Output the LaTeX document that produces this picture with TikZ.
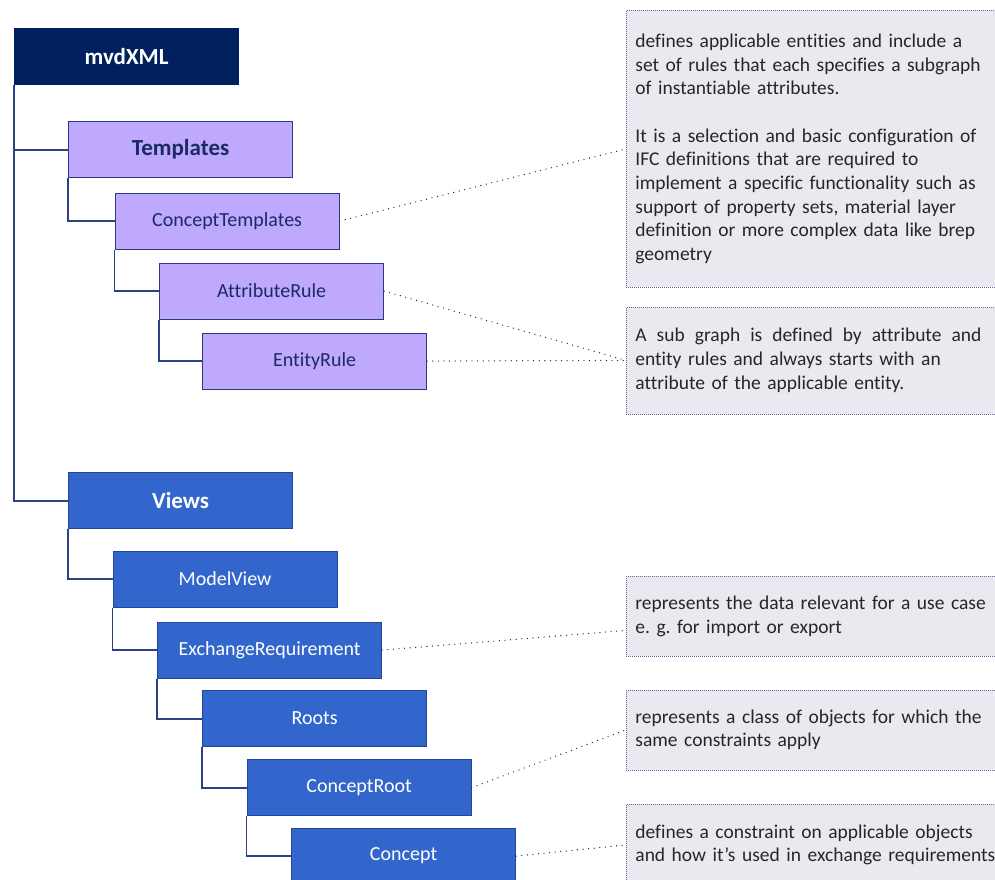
\documentclass[tikz,border=0pt]{standalone}
\usepackage{fontspec}
\setmainfont{Carlito}[Ligatures=NoCommon]
\frenchspacing
\definecolor{navy}{HTML}{002060}
\definecolor{lavender}{HTML}{BFA9FE}
\definecolor{royal}{HTML}{3366CC}
\definecolor{royaledge}{HTML}{22479A}
\definecolor{lavedge}{HTML}{2C3A7C}
\definecolor{notefill}{HTML}{EBE9F0}
\definecolor{noteline}{HTML}{5B6B9B}
\definecolor{treeline}{HTML}{2A4282}
\definecolor{labelnavy}{HTML}{1A2A62}
\definecolor{notetext}{HTML}{262626}

\begin{document}
\begin{tikzpicture}[x=1pt,y=-1pt,
  box/.style={rectangle, anchor=north west, minimum width=224pt, minimum height=56pt,
    inner sep=0pt, line width=1.2pt},
  headfont/.style={font=\fontsize{23}{28}\selectfont\bfseries},
  itemfont/.style={font=\fontsize{20}{24}\selectfont},
  rootbox/.style={box, headfont, fill=navy, draw=navy, text=white},
  tplhead/.style={box, headfont, fill=lavender, draw=lavedge, text=labelnavy},
  tplbox/.style={box, itemfont, fill=lavender, draw=lavedge, text=labelnavy},
  viewhead/.style={box, headfont, fill=royal, draw=royaledge, text=white},
  viewbox/.style={box, itemfont, fill=royal, draw=royaledge, text=white},
  note/.style={rectangle, anchor=north west, fill=notefill, draw=noteline, line width=0.8pt,
    dash pattern=on 0.8pt off 1.2pt, text width=380pt, inner xsep=9pt, inner ysep=0pt,
    align=left, text=notetext, font=\fontsize{19.5}{23.7}\selectfont},
  tree/.style={draw=treeline, line width=1.8pt},
  link/.style={draw=navy, line width=1.3pt, line cap=round, dash pattern=on 0pt off 5.6pt},
]
\path[use as bounding box, clip] (0,0) rectangle (995,879);

% template branch
\node[rootbox] (mv) at (14,28)    {mvdXML};
\node[tplhead] (tp) at (68,121)   {Templates};
\node[tplbox]  (ct) at (114.5,192.5) {ConceptTemplates};
\node[tplbox]  (ar) at (159,262.5)   {AttributeRule};
\node[tplbox]  (er) at (202,332.5)   {EntityRule};

% view branch
\node[viewhead] (vw) at (68,472)     {Views};
\node[viewbox]  (mo) at (112.5,550.5) {ModelView};
\node[viewbox]  (ex) at (157,621.5)   {ExchangeRequirement};
\node[viewbox]  (ro) at (202,690)     {Roots};
\node[viewbox]  (cr) at (246.5,759)   {ConceptRoot};
\node[viewbox]  (cc) at (291,827.5)   {Concept};

% hierarchy lines
\draw[tree] (mv.south west) |- (tp.west);
\draw[tree] (mv.south west) |- (vw.west);
\draw[tree] (tp.south west) |- (ct.west);
\draw[tree] (ct.south west) |- (ar.west);
\draw[tree] (ar.south west) |- (er.west);
\draw[tree] (vw.south west) |- (mo.west);
\draw[tree] (mo.south west) |- (ex.west);
\draw[tree] (ex.south west) |- (ro.west);
\draw[tree] (ro.south west) |- (cr.west);
\draw[tree] (cr.south west) |- (cc.west);

% explanatory notes
\node[note, minimum height=277pt] (n1) at (626,10) {%
defines applicable entities and include a\\
set of rules that each specifies a subgraph\\
of instantiable attributes.\\[23.7pt]
It is a selection and basic configuration of\\
IFC definitions that are required to\\
implement a specific functionality such as\\
support of property sets, material layer\\
definition or more complex data like brep\\
geometry};
\node[note, minimum height=107pt] (n2) at (626,306.5) {%
\makebox[346pt][l]{A\hfill sub\hfill graph\hfill is\hfill defined\hfill by\hfill attribute\hfill and}\\
entity rules and always starts with an\\
attribute of the applicable entity.};
\node[note, minimum height=80pt] (n3) at (626,576) {%
represents the data relevant for a use case\\
e. g. for import or export};
\node[note, minimum height=80pt] (n4) at (626,689.5) {%
represents a class of objects for which the\\
same constraints apply};
\node[note, minimum height=81pt] (n5) at (626,804) {%
defines a constraint on applicable objects\\
and how it’s used in exchange requirements};

% dotted links from elements to notes
\draw[link] (ct.east) -- (n1.west);
\draw[link] (ar.east) -- (n2.west);
\draw[link] (er.east) -- (n2.west);
\draw[link] (ex.east) -- ([yshift=-14pt]n3.west);
\draw[link] (cr.east) -- (n4.west);
\draw[link] (cc.east) -- (n5.west);
\end{tikzpicture}
\end{document}
